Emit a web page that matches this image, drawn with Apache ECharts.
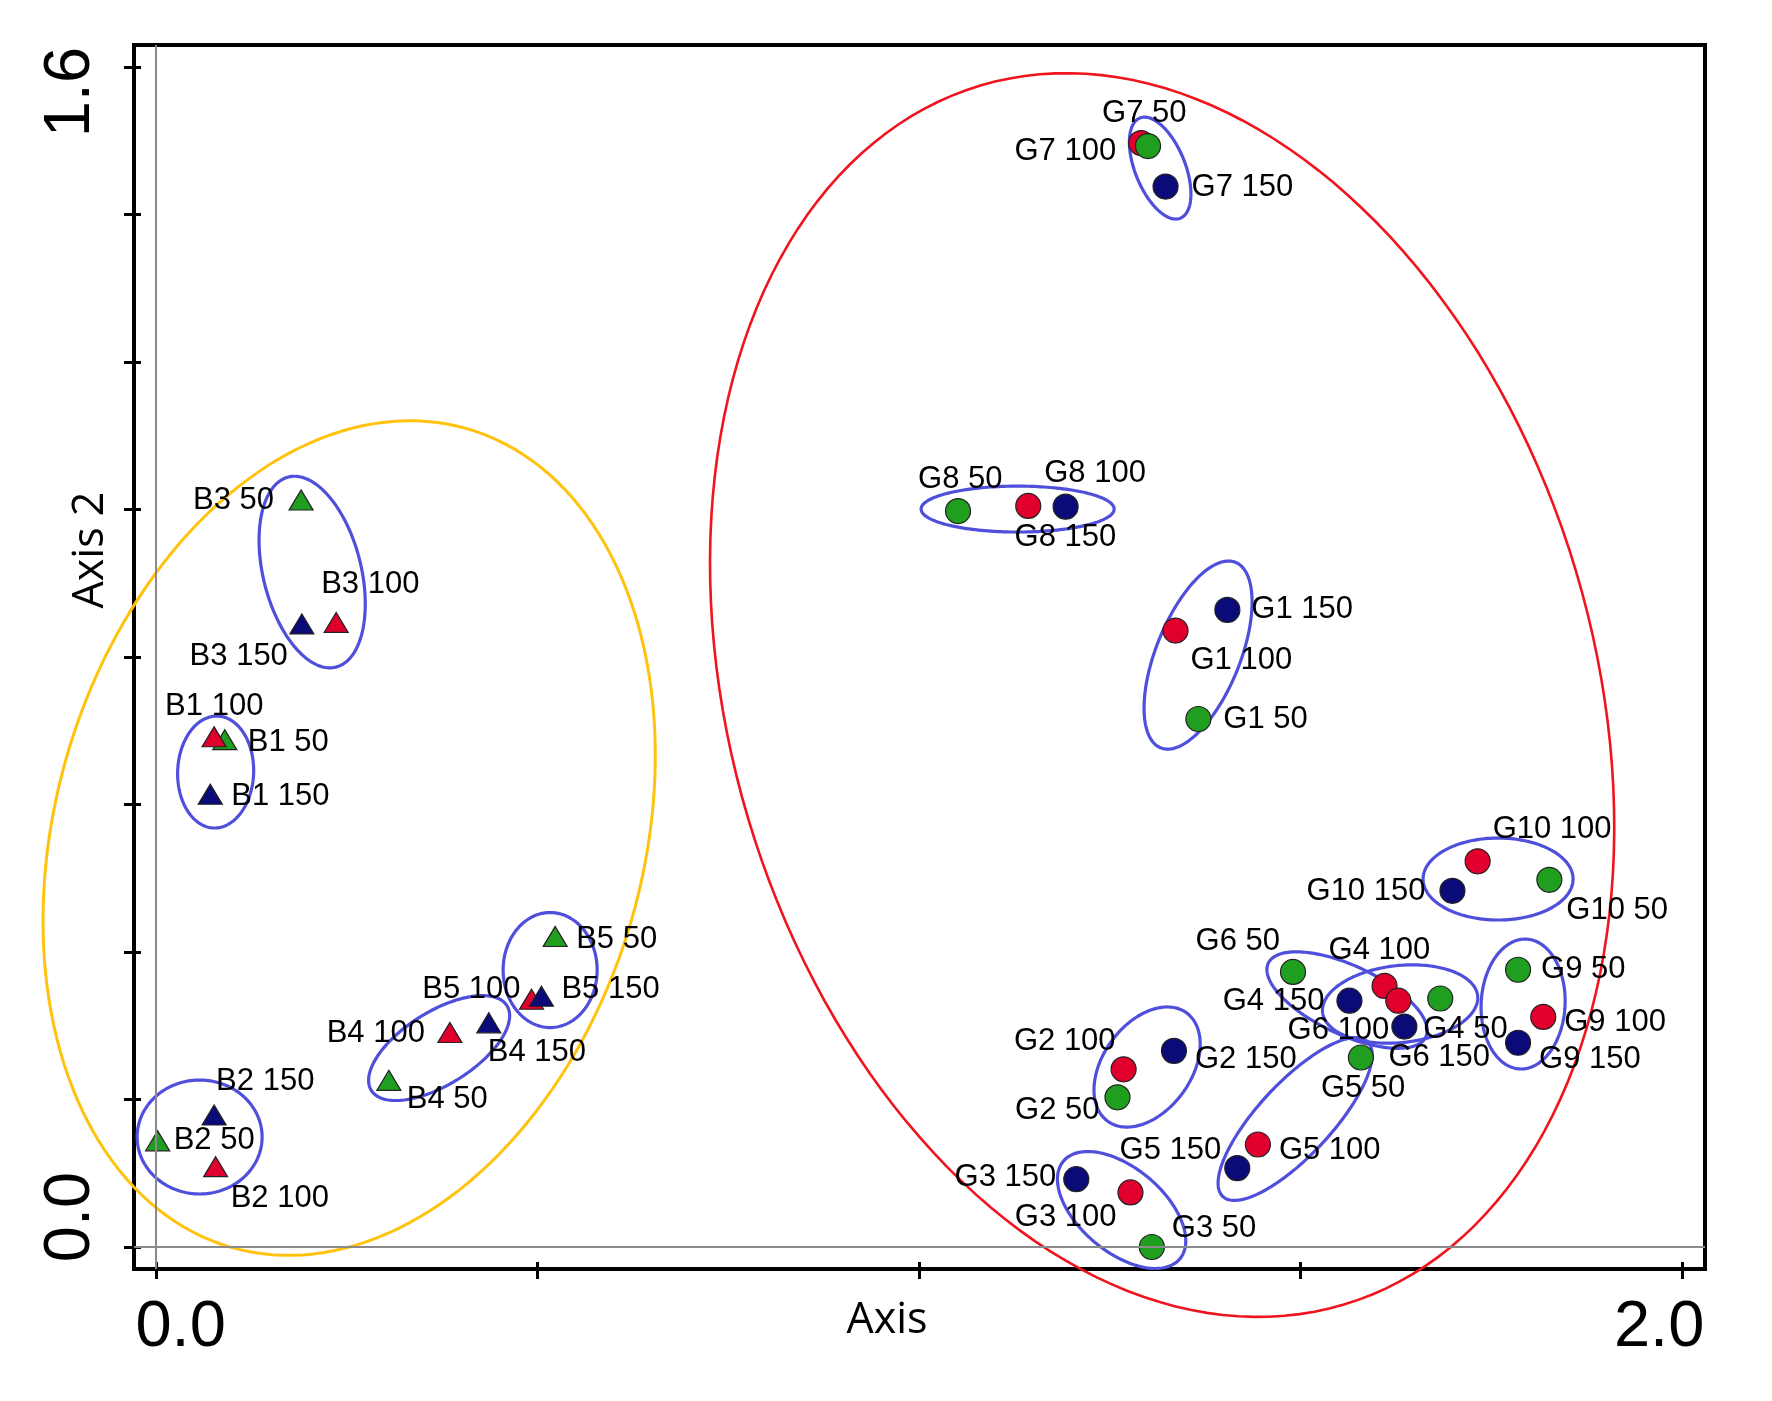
<!DOCTYPE html>
<html><head><meta charset="utf-8">
<script src="https://cdn.jsdelivr.net/npm/echarts@6/dist/echarts.min.js"></script>
<style>html,body{margin:0;padding:0;background:#fff}#c{width:1772px;height:1401px}</style>
</head><body><div id="c"></div>
<script>
// ---- axis ticks ----
const xTicks = [0, 0.5, 1.0, 1.5, 2.0];
const xTickLabels = [0, 2.0];
const yTicks = [0, 0.2, 0.4, 0.6, 0.8, 1.0, 1.2, 1.4, 1.6];
const yTickLabels = [0, 1.6];

// ---- B samples (triangles) ----
const b50Names  = ['B1 50', 'B2 50', 'B3 50', 'B4 50', 'B5 50'];
const b50X      = [0.090, 0.002, 0.190, 0.305, 0.523];
const b50Y      = [0.688, 0.144, 1.013, 0.226, 0.421];
const b100Names = ['B1 100', 'B2 100', 'B3 100', 'B4 100', 'B5 100'];
const b100X     = [0.076, 0.078, 0.236, 0.385, 0.492];
const b100Y     = [0.692, 0.109, 0.847, 0.291, 0.336];
const b150Names = ['B1 150', 'B2 150', 'B3 150', 'B4 150', 'B5 150'];
const b150X     = [0.071, 0.076, 0.191, 0.436, 0.505];
const b150Y     = [0.614, 0.179, 0.845, 0.304, 0.340];

// ---- G samples (circles) ----
const g50Names  = ['G1 50','G2 50','G3 50','G4 50','G5 50','G6 50','G7 50','G8 50','G9 50','G10 50'];
const g50X      = [1.366, 1.260, 1.305, 1.683, 1.579, 1.490, 1.300, 1.051, 1.785, 1.826];
const g50Y      = [0.716, 0.203, 0.000, 0.337, 0.257, 0.373, 1.493, 0.998, 0.376, 0.498];
const g100Names = ['G1 100','G2 100','G3 100','G4 100','G5 100','G6 100','G7 100','G8 100','G9 100','G10 100'];
const g100X     = [1.336, 1.268, 1.277, 1.610, 1.444, 1.628, 1.291, 1.143, 1.818, 1.732];
const g100Y     = [0.836, 0.241, 0.074, 0.354, 0.139, 0.334, 1.497, 1.005, 0.312, 0.523];
const g150Names = ['G1 150','G2 150','G3 150','G4 150','G5 150','G6 150','G7 150','G8 150','G9 150','G10 150'];
const g150X     = [1.404, 1.334, 1.206, 1.564, 1.417, 1.636, 1.323, 1.192, 1.785, 1.699];
const g150Y     = [0.864, 0.266, 0.092, 0.334, 0.107, 0.299, 1.438, 1.004, 0.277, 0.483];

// ---- group ellipses (annotation): [centerX, centerY, semiAxisA, semiAxisB, tiltDeg] in data units ----
const yellowEllipse = [[0.2530, 0.5546, 0.5583, 0.3853, 16.1]];
const redEllipse    = [[1.3185, 0.7485, 0.8336, 0.5662, -16.6]];
const blueEllipses  = [
  [0.2045, 0.9153, 0.1284, 0.0642, -14],   // B3
  [0.0780, 0.6441, 0.0734, 0.0498, 2],     // B1
  [0.0570, 0.1492, 0.0747, 0.0819, 0],     // B2
  [0.3709, 0.2698, 0.1048, 0.0478, 58],    // B4
  [0.5164, 0.3756, 0.0754, 0.0616, 0],     // B5
  [1.3159, 1.4631, 0.0708, 0.0328, -22],   // G7
  [1.1291, 1.0007, 0.0301, 0.1265, 0],     // G8
  [1.3656, 0.8027, 0.1311, 0.0550, 22],    // G1
  [1.7588, 0.4990, 0.0537, 0.0983, 0],     // G10
  [1.5609, 0.3349, 0.1140, 0.0452, -65],   // G6
  [1.6304, 0.3295, 0.0505, 0.1022, -6],    // G4
  [1.7916, 0.3295, 0.0852, 0.0550, 3],     // G9
  [1.2988, 0.2441, 0.0878, 0.0577, 36],    // G2
  [1.4928, 0.1736, 0.1389, 0.0478, 43],    // G5
  [1.2654, 0.0502, 0.0996, 0.0550, -50]    // G3
];

// ---- label placement (layout only): [align, dx, dy] in px from marker centre ----
const labelPlace = {
  'B3 50':['right',-27,0], 'B3 100':['left',-15,-38], 'B3 150':['right',-14,33],
  'B1 100':['left',-49,-30], 'B1 50':['left',23,3], 'B1 150':['left',21,2],
  'B5 50':['left',21,3], 'B5 100':['right',-11,-10], 'B5 150':['left',20,-7],
  'B4 100':['right',-25,1], 'B4 150':['left',-1,30], 'B4 50':['left',18,19],
  'B2 150':['left',2,-34], 'B2 50':['left',16,0], 'B2 100':['left',15,32],
  'G7 50':['left',-46,-33], 'G7 100':['right',-25,8], 'G7 150':['left',26,1],
  'G8 50':['left',-40,-32], 'G8 100':['left',16,-32], 'G8 150':['left',-51,31],
  'G1 150':['left',24,0], 'G1 100':['left',15,30], 'G1 50':['left',25,0],
  'G10 100':['left',15,-32], 'G10 150':['right',-27,1], 'G10 50':['left',17,31],
  'G6 50':['right',-13,-31], 'G4 100':['left',-56,-36], 'G4 150':['right',-25,1],
  'G6 100':['right',-9,30], 'G4 50':['left',-17,31], 'G6 150':['left',-16,31],
  'G9 50':['left',23,0], 'G9 100':['left',21,6], 'G9 150':['left',21,17],
  'G2 100':['right',-8,-28], 'G2 150':['left',21,9], 'G2 50':['right',-18,13],
  'G5 50':['left',-40,31], 'G5 150':['right',-16,-18], 'G5 100':['left',21,6],
  'G3 150':['right',-20,-2], 'G3 100':['right',-14,25], 'G3 50':['left',20,-19]
};

const COL_GREEN = '#1f9e1f', COL_RED = '#e1002d', COL_NAVY = '#0a0a78';
const LABEL_FONT = '"Liberation Sans", Arial, sans-serif';

function buildData(names, xs, ys) {
  return names.map((n, i) => {
    const p = labelPlace[n] || ['left', 15, 0];
    return {
      name: n,
      value: [xs[i], ys[i]],
      label: { align: p[0], offset: [p[1], p[2]] }
    };
  });
}

function pointSeries(name, names, xs, ys, color, shape, z) {
  return {
    type: 'scatter', name: name, z: z,
    symbol: shape,
    symbolSize: shape === 'triangle' ? [24, 20] : 25,
    itemStyle: { color: color, borderColor: '#222', borderWidth: 1.2, opacity: 1 },
    label: {
      show: true, position: 'inside', verticalAlign: 'middle',
      formatter: '{b}', color: '#000', fontSize: 31, fontFamily: LABEL_FONT
    },
    emphasis: { disabled: true },
    data: buildData(names, xs, ys)
  };
}

function ellipseSeries(data, color, width) {
  return {
    type: 'custom', coordinateSystem: 'cartesian2d', z: 1, silent: true,
    data: data,
    encode: { x: 0, y: 1 },
    renderItem: function (params, api) {
      const c = api.coord([api.value(0), api.value(1)]);
      const s = api.size([1, 1]);
      const A = api.value(2) * s[0], B = api.value(3) * s[0];
      const phi = api.value(4) * Math.PI / 180;
      const pts = [];
      for (let i = 0; i <= 180; i++) {
        const t = i / 180 * 2 * Math.PI;
        const u = A * Math.cos(t), v = B * Math.sin(t);
        pts.push([c[0] + u * Math.sin(phi) + v * Math.cos(phi),
                  c[1] - u * Math.cos(phi) + v * Math.sin(phi)]);
      }
      return { type: 'polygon', shape: { points: pts },
               style: { fill: 'none', stroke: color, lineWidth: width } };
    }
  };
}

const chart = echarts.init(document.getElementById('c'), null, { renderer: 'canvas' });
const TICK_FONT = '"Liberation Sans", Arial, sans-serif';
const NAME_FONT = '"Open Sans", "Liberation Sans", sans-serif';

const option = {
  animation: false,
  backgroundColor: '#fff',
  grid: { left: 134, right: 67, top: 45, bottom: 132, show: true,
          borderColor: '#000', borderWidth: 4, containLabel: false },
  xAxis: [{
    type: 'value', min: -0.029, max: 2.030,
    axisLine: { show: true, onZero: false, lineStyle: { color: '#000', width: 4 } },
    axisTick: { show: true, customValues: xTicks, length: 10, lineStyle: { color: '#000', width: 3 } },
    axisLabel: {
      show: true, customValues: xTickLabels, margin: 27,
      formatter: v => Math.abs(v) < 1e-9 ? '{l|0.0}' : '{r|' + v.toFixed(1) + '}',
      rich: {
        l: { fontSize: 65, fontFamily: TICK_FONT, color: '#000', padding: [0, 0, 0, 49] },
        r: { fontSize: 65, fontFamily: TICK_FONT, color: '#000', padding: [0, 46, 0, 0] }
      }
    },
    splitLine: { show: false },
    name: 'Axis', nameLocation: 'middle', nameGap: 30, nameMoveOverlap: false,
    nameTextStyle: { fontSize: 43, fontFamily: NAME_FONT, color: '#000', padding: [0, 65, 0, 0] }
  }, {
    type: 'value', min: -0.029, max: 2.030, position: 'bottom',
    axisLine: { show: false, onZero: false },
    axisTick: { show: true, inside: true, customValues: xTicks, length: 7, lineStyle: { color: '#000', width: 3 } },
    axisLabel: { show: false }, splitLine: { show: false }
  }],
  yAxis: [{
    type: 'value', min: -0.0298, max: 1.630,
    axisLine: { show: true, onZero: false, lineStyle: { color: '#000', width: 4 } },
    axisTick: { show: true, customValues: yTicks, length: 10, lineStyle: { color: '#000', width: 3 } },
    axisLabel: {
      show: true, customValues: yTickLabels, rotate: 90, margin: 30,
      formatter: v => Math.abs(v) < 1e-9 ? '{b|0.0}' : '{t|' + v.toFixed(1) + '}',
      rich: {
        b: { fontSize: 65, fontFamily: TICK_FONT, color: '#000', padding: [0, 0, 0, 60] },
        t: { fontSize: 65, fontFamily: TICK_FONT, color: '#000', padding: [0, 50, 0, 0] }
      }
    },
    splitLine: { show: false },
    name: 'Axis 2', nameLocation: 'middle', nameGap: 22, nameRotate: 90, nameMoveOverlap: false,
    nameTextStyle: { fontSize: 43, fontFamily: NAME_FONT, color: '#000', padding: [0, 0, 0, 214] }
  }, {
    type: 'value', min: -0.0298, max: 1.630, position: 'left',
    axisLine: { show: false, onZero: false },
    axisTick: { show: true, inside: true, customValues: yTicks, length: 7, lineStyle: { color: '#000', width: 3 } },
    axisLabel: { show: false }, splitLine: { show: false }
  }],
  series: [
    Object.assign(ellipseSeries(yellowEllipse, '#ffc30f', 3), {
      markLine: {
        silent: true, symbol: 'none', label: { show: false },
        lineStyle: { color: '#8a8a8a', width: 2, type: 'solid' },
        data: [{ xAxis: 0 }, { yAxis: 0 }]
      }
    }),
    ellipseSeries(redEllipse, '#f0141e', 2.6),
    ellipseSeries(blueEllipses, '#4f4fdc', 3.2),
    pointSeries('B 50', b50Names, b50X, b50Y, COL_GREEN, 'triangle', 3),
    pointSeries('B 100', b100Names, b100X, b100Y, COL_RED, 'triangle', 3),
    pointSeries('B 150', b150Names, b150X, b150Y, COL_NAVY, 'triangle', 3),
    pointSeries('G 100', g100Names, g100X, g100Y, COL_RED, 'circle', 3),
    pointSeries('G 50', g50Names, g50X, g50Y, COL_GREEN, 'circle', 3),
    pointSeries('G 150', g150Names, g150X, g150Y, COL_NAVY, 'circle', 3)
  ]
};
chart.setOption(option);
</script>
</body></html>
